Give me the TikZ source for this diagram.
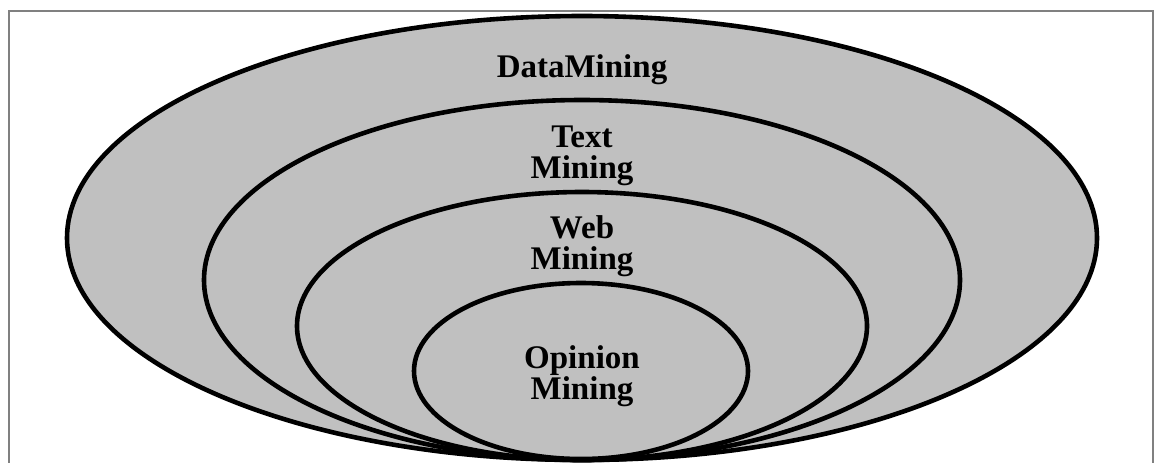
\documentclass[tikz,border=0pt]{standalone}
\usepackage{fontspec}
\setmainfont{Liberation Serif}
\usepackage{xcolor}
\definecolor{ringgray}{HTML}{C0C0C0}
\definecolor{framegray}{HTML}{808080}

\begin{document}
\begin{tikzpicture}[x=0.5pt,y=-0.5pt,
    ring/.style={draw=black, fill=ringgray, line width=2.3pt},
    tag/.style={font=\fontsize{16.5}{15.5}\selectfont\bfseries, align=center, inner sep=0pt}]
  \useasboundingbox (0,0) rectangle (1156,462);
  % open frame round the picture
  \draw[framegray, line width=1pt] (8.5,480) |- (1152.5,10.5) -- (1152.5,480);

  % nested fields, all meeting at the bottom
  \draw[ring] (582,238) ellipse [x radius=515, y radius=222];
  \draw[ring] (582,280) ellipse [x radius=378, y radius=180];
  \draw[ring] (582,326) ellipse [x radius=285, y radius=134];
  \draw[ring] (581,371) ellipse [x radius=167, y radius=88];

  \node[tag] (data) at (582,70) {DataMining};
  \node[tag] (text) at (582,156) {Text\\Mining};
  \node[tag] (web) at (582,246) {Web\\Mining};
  \node[tag] (opinion) at (582,376) {Opinion\\Mining};
\end{tikzpicture}
\end{document}
